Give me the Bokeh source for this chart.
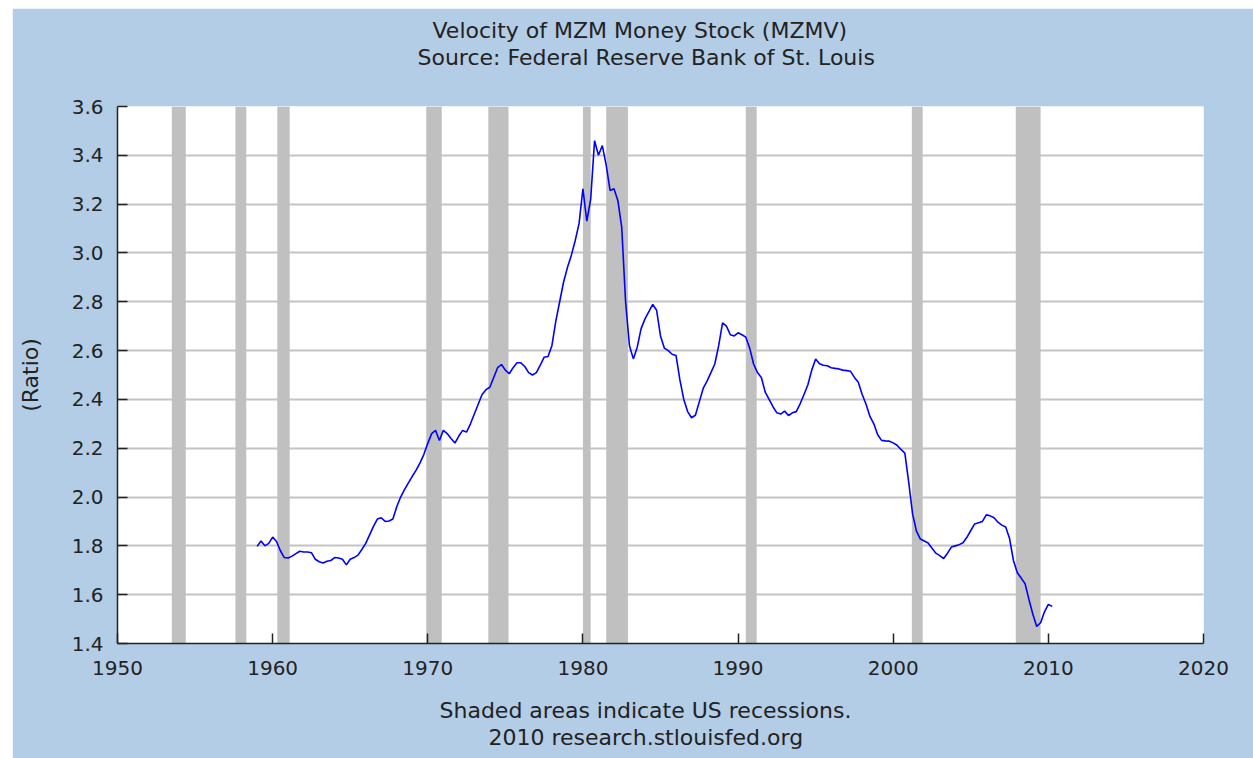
from bokeh.plotting import figure
from bokeh.models import (Range1d, FixedTicker, PrintfTickFormatter, Title, LinearAxis,
                          ColumnDataSource)
from bokeh.embed import file_html
from bokeh.resources import INLINE

# ---- data ----
years = list(range(1959, 2011))
# quarterly MZM velocity values, Q1..Q4 per year
mzmv_by_year = [
    [1.798, 1.820, 1.800, 1.810],  # 1959
    [1.836, 1.818, 1.780, 1.752],  # 1960
    [1.750, 1.758, 1.768, 1.778],  # 1961
    [1.775, 1.775, 1.772, 1.745],  # 1962
    [1.735, 1.730, 1.737, 1.740],  # 1963
    [1.752, 1.750, 1.745, 1.722],  # 1964
    [1.745, 1.752, 1.762, 1.785],  # 1965
    [1.810, 1.845, 1.880, 1.910],  # 1966
    [1.915, 1.900, 1.902, 1.910],  # 1967
    [1.960, 2.000, 2.030, 2.058],  # 1968
    [2.085, 2.110, 2.140, 2.175],  # 1969
    [2.220, 2.260, 2.273, 2.232],  # 1970
    [2.273, 2.260, 2.240, 2.221],  # 1971
    [2.250, 2.273, 2.266, 2.300],  # 1972
    [2.340, 2.380, 2.420, 2.440],  # 1973
    [2.450, 2.490, 2.530, 2.543],  # 1974
    [2.520, 2.505, 2.530, 2.550],  # 1975
    [2.550, 2.535, 2.510, 2.500],  # 1976
    [2.510, 2.540, 2.573, 2.576],  # 1977
    [2.620, 2.720, 2.800, 2.880],  # 1978
    [2.940, 2.990, 3.050, 3.120],  # 1979
    [3.263, 3.130, 3.220, 3.460],  # 1980
    [3.400, 3.440, 3.360, 3.256],  # 1981
    [3.263, 3.215, 3.105, 2.800],  # 1982
    [2.620, 2.566, 2.614, 2.690],  # 1983
    [2.730, 2.760, 2.789, 2.765],  # 1984
    [2.660, 2.610, 2.600, 2.585],  # 1985
    [2.580, 2.480, 2.400, 2.350],  # 1986
    [2.325, 2.335, 2.390, 2.445],  # 1987
    [2.475, 2.510, 2.545, 2.620],  # 1988
    [2.714, 2.700, 2.665, 2.660],  # 1989
    [2.673, 2.665, 2.655, 2.610],  # 1990
    [2.545, 2.510, 2.490, 2.430],  # 1991
    [2.400, 2.370, 2.345, 2.340],  # 1992
    [2.352, 2.334, 2.345, 2.350],  # 1993
    [2.382, 2.420, 2.460, 2.520],  # 1994
    [2.566, 2.546, 2.540, 2.538],  # 1995
    [2.530, 2.527, 2.525, 2.520],  # 1996
    [2.518, 2.515, 2.490, 2.470],  # 1997
    [2.420, 2.380, 2.330, 2.300],  # 1998
    [2.255, 2.232, 2.230, 2.229],  # 1999
    [2.222, 2.212, 2.195, 2.180],  # 2000
    [2.060, 1.930, 1.860, 1.828],  # 2001
    [1.820, 1.812, 1.790, 1.770],  # 2002
    [1.760, 1.748, 1.770, 1.795],  # 2003
    [1.800, 1.805, 1.813, 1.835],  # 2004
    [1.863, 1.890, 1.895, 1.900],  # 2005
    [1.927, 1.923, 1.915, 1.897],  # 2006
    [1.885, 1.877, 1.830, 1.740],  # 2007
    [1.690, 1.668, 1.645, 1.580],  # 2008
    [1.520, 1.470, 1.485, 1.530],  # 2009
    [1.560, 1.552],                # 2010
]

recession_start = [1953.5, 1957.6, 1960.3, 1969.9, 1973.9, 1980.0, 1981.5, 1990.5, 2001.2, 2007.9]
recession_end = [1954.4, 1958.3, 1961.1, 1970.9, 1975.2, 1980.5, 1982.9, 1991.2, 2001.9, 2009.5]

x_ticks = [1950, 1960, 1970, 1980, 1990, 2000, 2010, 2020]
y_ticks = [1.4, 1.6, 1.8, 2.0, 2.2, 2.4, 2.6, 2.8, 3.0, 3.2, 3.4, 3.6]

title_lines = ["Velocity of MZM Money Stock (MZMV)", "Source: Federal Reserve Bank of St. Louis"]
footer_lines = ["Shaded areas indicate US recessions.", "2010 research.stlouisfed.org"]
y_label = "(Ratio)"

# build series
dates, values = [], []
for yr, qs in zip(years, mzmv_by_year):
    for qi, v in enumerate(qs):
        dates.append(yr + qi * 0.25)
        values.append(v)

FONT = "DejaVu Sans"
BG = "#B4CDE6"
TXT = "#222222"

p = figure(
    frame_width=1086, frame_height=537,
    min_border_left=105, min_border_right=50, min_border_top=98, min_border_bottom=115,
    x_range=Range1d(1950, 2020), y_range=Range1d(1.4, 3.6),
    output_backend="svg", toolbar_location=None, title=None,
    margin=(8, 0, 0, 12),
)
p.background_fill_color = "white"
p.border_fill_color = BG
p.outline_line_color = None

# recession shading
rsrc = ColumnDataSource(dict(left=recession_start, right=recession_end,
                             bottom=[y_ticks[0]] * len(recession_start),
                             top=[y_ticks[-1]] * len(recession_start)))
p.quad(left="left", right="right", bottom="bottom", top="top", source=rsrc,
       fill_color="#C0C0C0", line_color=None)

# series
p.line(dates, values, line_color="#0000FF", line_width=1.6)

# grid
p.xgrid.grid_line_color = None
p.ygrid.grid_line_color = "#C4C4C4"
p.ygrid.grid_line_width = 2
p.ygrid.ticker = FixedTicker(ticks=y_ticks)

# axes
for ax in (p.xaxis[0], p.yaxis[0]):
    ax.axis_line_color = "#222222"
    ax.axis_line_width = 1.5
    ax.major_tick_line_color = "#222222"
    ax.major_tick_line_width = 1.5
    ax.major_tick_in = 10
    ax.major_tick_out = 0
    ax.minor_tick_line_color = None
    ax.minor_tick_out = 0
    ax.major_label_text_font = FONT
    ax.major_label_text_font_size = "20px"
    ax.major_label_text_color = TXT

p.xaxis.major_label_standoff = 17
p.yaxis.major_label_standoff = 14
p.xaxis.ticker = FixedTicker(ticks=x_ticks)
p.yaxis.ticker = FixedTicker(ticks=y_ticks)
p.yaxis.formatter = PrintfTickFormatter(format="%.1f")
p.yaxis.axis_label = y_label
p.yaxis.axis_label_text_font = FONT
p.yaxis.axis_label_text_font_size = "22px"
p.yaxis.axis_label_text_font_style = "normal"
p.yaxis.axis_label_text_color = TXT
p.yaxis.axis_label_standoff = 26

# x axis: a blank label reserves the gap between tick labels and the footer
p.xaxis.axis_label = " "
p.xaxis.axis_label_text_font_size = "10px"
p.xaxis.axis_label_standoff = 4

# blank axis above the frame reserving the gap below the title block
top_gap = LinearAxis(ticker=FixedTicker(ticks=[]), axis_line_color=None,
                     major_tick_line_color=None, minor_tick_line_color=None,
                     major_tick_in=0, major_tick_out=0, minor_tick_in=0, minor_tick_out=0,
                     axis_label=" ", axis_label_text_font_size="10px",
                     axis_label_standoff=23)


def text_title(txt, offset):
    return Title(text=txt, align="left", offset=offset, standoff=0,
                 text_font=FONT, text_font_size="22px", text_font_style="normal",
                 text_color=TXT)


# title block (first added sits nearest the plot frame)
p.add_layout(top_gap, "above")
p.add_layout(text_title(title_lines[1], 300), "above")
p.add_layout(text_title(title_lines[0], 315), "above")

# footer block
p.add_layout(text_title(footer_lines[0], 322), "below")
p.add_layout(text_title(footer_lines[1], 371), "below")

open("out.html", "w").write(file_html(p, INLINE))
